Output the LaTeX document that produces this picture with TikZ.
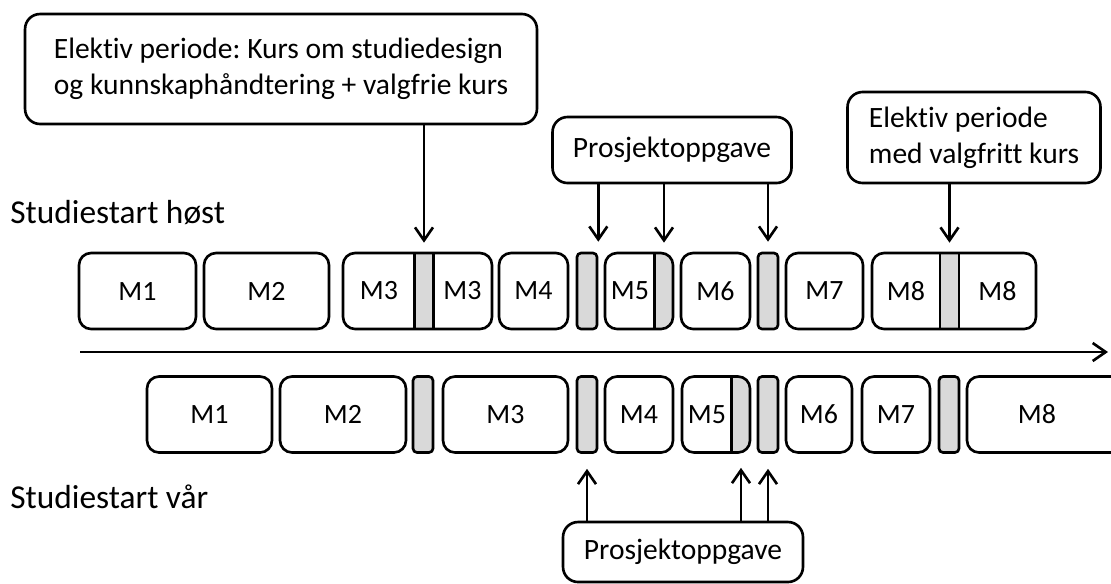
\documentclass[tikz,border=0pt]{standalone}
\usepackage{fontspec}
\setmainfont{Carlito}[Ligatures={NoCommon}]
\usetikzlibrary{arrows.meta}
\frenchspacing

\definecolor{barfill}{RGB}{217,217,217}
\newcommand\modfont{\fontsize{15.9}{19}\selectfont}
\newcommand\boxfont{\fontsize{16.8}{20.6}\selectfont}
\newcommand\startfont{\fontsize{19}{23}\selectfont}
\newcommand\greyslot[1]{\fill[barfill, sharp corners] (#1.north west) rectangle (#1.south east);}

\tikzset{
  modbox/.style={draw, line width=1.5pt, rounded corners=0.24cm, minimum height=1.52cm, inner sep=0pt},
  bar/.style={fill=barfill, rounded corners=0.08cm, minimum width=0.4cm},
  slot/.style={inner sep=0pt, minimum height=1.52cm, minimum width=#1},
  divider/.style={line width=1.5pt},
  infobox/.style={draw, line width=1.5pt, rounded corners=0.3cm, align=left, inner sep=0pt},
  pointer/.style={-{Straight Barb[length=0.26cm,width=0.36cm]}, line width=1.5pt},
}

\begin{document}
\begin{tikzpicture}[x=0.02cm, y=-0.02cm]

      \useasboundingbox (0,0) rectangle (1111,583);
      \clip (0,0) rectangle (1111,583);

      \begin{scope}[every node/.style={slot=0.36cm}]
        \node (hs3) at (424,291)   {};
        \node (hs5) at (664,291)   {};
        \node (hs8) at (949.5,291) {};
        \node (vs5) at (741,414.5) {};
      \end{scope}

      \begin{scope}[every node/.style={modbox, font=\modfont}]
        \node[minimum width=2.34cm] (h1) at (137.5,291) {M1};
        \node[minimum width=2.50cm] (h2) at (266.5,291) {M2};
        \node[minimum width=2.98cm, path picture={\greyslot{hs3}}] (h3) at (417.5,291) {};
        \node[minimum width=1.38cm] (h4) at (533.5,291) {M4};
        \node[bar] (hb1) at (587,291) {};
        \node[minimum width=1.36cm, path picture={\greyslot{hs5}}] (h5) at (639,291) {};
        \node[minimum width=1.38cm] (h6) at (715.5,291) {M6};
        \node[bar] (hb2) at (768,291) {};
        \node[minimum width=1.54cm] (h7) at (824.5,291) {M7};
        \node[minimum width=3.28cm, path picture={\greyslot{hs8}}] (h8) at (954,291) {};

        \node[minimum width=2.50cm] (v1) at (209.5,414.5) {M1};
        \node[minimum width=2.52cm] (v2) at (343,414.5) {M2};
        \node[bar] (vb1) at (423,414.5) {};
        \node[minimum width=2.50cm] (v3) at (505.5,414.5) {M3};
        \node[bar] (vb2) at (587,414.5) {};
        \node[minimum width=1.36cm] (v4) at (639,414.5) {M4};
        \node[minimum width=1.36cm, path picture={\greyslot{vs5}}] (v5) at (716,414.5) {};
        \node[bar] (vb3) at (768,414.5) {};
        \node[minimum width=1.32cm] (v6) at (819,414.5) {M6};
        \node[minimum width=1.36cm] (v7) at (896,414.5) {M7};
        \node[bar] (vb4) at (949,414.5) {};
        \node[minimum width=3.50cm] (v8) at (1054.5,414.5) {};
      \end{scope}

      \draw[divider] (hs3.north west) -- (hs3.south west) (hs3.north east) -- (hs3.south east);
      \draw[divider] (hs8.north west) -- (hs8.south west) (hs8.north east) -- (hs8.south east);
      \draw[divider] (hs5.north west) -- (hs5.south west);
      \draw[divider] (vs5.north west) -- (vs5.south west);

      \begin{scope}[every node/.style={font=\modfont}]
        \node (h3a) at (379,291)    {M3};
        \node (h3b) at (462.5,291)  {M3};
        \node (h5a) at (630,291)    {M5};
        \node (h8a) at (906,291)    {M8};
        \node (h8b) at (997.5,291)  {M8};
        \node (v5a) at (707,414.5)  {M5};
        \node (v8a) at (1037,414.5) {M8};
      \end{scope}

      \begin{scope}[every node/.style={anchor=west, inner sep=0pt, font=\startfont}]
        \node (host) at (10,213) {Studiestart høst};
        \node (var)  at (10,497) {Studiestart vår};
      \end{scope}

      \coordinate (t0) at (80,352);
      \coordinate (t1) at (1108,352);
      \draw[pointer] (t0) -- (t1);

      \begin{scope}[every node/.style={infobox, font=\boxfont}]
        \node[minimum width=10.24cm, minimum height=2.2cm] (c1) at (281,69)
          {Elektiv periode: Kurs om studiedesign\\og kunnskaphåndtering + valgfrie kurs};
        \node[minimum width=4.78cm, minimum height=1.32cm] (c2) at (672,150) {Prosjektoppgave};
        \node[minimum width=5.06cm, minimum height=1.82cm] (c3) at (974,137.5)
          {Elektiv periode\\med valgfritt kurs};
        \node[minimum width=4.80cm, minimum height=1.20cm] (c4) at (683,552) {Prosjektoppgave};
      \end{scope}

      \begin{scope}[every edge/.style={draw, pointer, shorten >=0.2cm}]
        \path (c1.south -| hs3)       edge (hs3.north);
        \path (c2.south -| hb1.east)  edge (hb1.north east);
        \path (c2.south -| hs5)       edge (hs5.north);
        \path (c2.south -| hb2)       edge (hb2.north);
        \path (c3.south -| hs8)       edge (hs8.north);
      \end{scope}

      \begin{scope}[every edge/.style={draw, pointer, shorten >=0.3cm}]
        \path (c4.north -| vb2) edge (vb2.south);
        \path (c4.north -| vs5) edge (vs5.south);
        \path (c4.north -| vb3) edge (vb3.south);
      \end{scope}

    \end{tikzpicture}
\end{document}
